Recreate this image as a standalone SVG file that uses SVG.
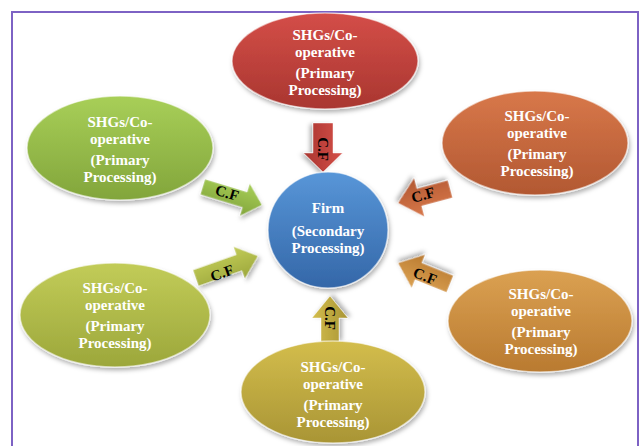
<svg xmlns="http://www.w3.org/2000/svg" width="642" height="446" viewBox="0 0 642 446">
<defs>
<filter id="sh" x="-20%" y="-20%" width="140%" height="150%"><feDropShadow dx="1.5" dy="3" stdDeviation="2" flood-color="#000" flood-opacity="0.3"/></filter>
<linearGradient id="gRed" x1="0" y1="0" x2="0" y2="1"><stop offset="0" stop-color="#d44e48"/><stop offset="1" stop-color="#a93630"/></linearGradient>
<linearGradient id="gGreen" x1="0" y1="0" x2="0" y2="1"><stop offset="0" stop-color="#a8cf58"/><stop offset="1" stop-color="#82a53b"/></linearGradient>
<linearGradient id="gOrange" x1="0" y1="0" x2="0" y2="1"><stop offset="0" stop-color="#d8784a"/><stop offset="1" stop-color="#b25832"/></linearGradient>
<linearGradient id="gLOrange" x1="0" y1="0" x2="0" y2="1"><stop offset="0" stop-color="#dba152"/><stop offset="1" stop-color="#b97a30"/></linearGradient>
<linearGradient id="gYGreen" x1="0" y1="0" x2="0" y2="1"><stop offset="0" stop-color="#c2cc58"/><stop offset="1" stop-color="#9ca73b"/></linearGradient>
<linearGradient id="gGold" x1="0" y1="0" x2="0" y2="1"><stop offset="0" stop-color="#d3bd4c"/><stop offset="1" stop-color="#a99535"/></linearGradient>
<linearGradient id="gBlue" x1="0" y1="0" x2="0" y2="1"><stop offset="0" stop-color="#5896d8"/><stop offset="1" stop-color="#3467a8"/></linearGradient>
</defs>
<style>
.node{stroke:#ffffff;stroke-opacity:0.55;stroke-width:1.5;filter:url(#sh)}
.lbl{font-family:"Liberation Serif","Times New Roman",serif;font-weight:bold;font-size:15px;fill:#ffffff;text-anchor:middle}
.arr{stroke:#ffffff;stroke-opacity:0.45;stroke-width:1;filter:url(#sh)}
.cf{font-family:"Liberation Serif","Times New Roman",serif;font-weight:bold;font-size:15px;fill:#000000;text-anchor:middle;dominant-baseline:central}
</style>
<rect x="12" y="12" width="626" height="460" fill="#ffffff" stroke="#7d62c4" stroke-width="2"/>

<g id="connectors">
<g transform="translate(323,172) rotate(90)"><polygon class="arr" fill="url(#gRed)" points="0,0 -19,19.5 -19,10 -49,10 -49,-10 -19,-10 -19,-19.5"/></g>
<text class="cf" transform="translate(323,149) rotate(90)">C.F</text>

<g transform="translate(330,296) rotate(-90)"><polygon class="arr" fill="url(#gGold)" points="0,0 -22,18 -22,9 -46,9 -46,-9 -22,-9 -22,-18"/></g>
<text class="cf" transform="translate(330,318) rotate(90)">C.F</text>

<g transform="translate(262,205) rotate(17)"><polygon class="arr" fill="url(#gGreen)" points="0,0 -18,17 -18,8 -62,8 -62,-8 -18,-8 -18,-17"/></g>
<text class="cf" transform="translate(227,193) rotate(17)">C.F</text>

<g transform="translate(258,256) rotate(-19.5)"><polygon class="arr" fill="url(#gYGreen)" points="0,0 -20,17 -20,8.5 -66,8.5 -66,-8.5 -20,-8.5 -20,-17"/></g>
<text class="cf" transform="translate(222,273) rotate(-19.5)">C.F</text>

<g transform="translate(398,203) rotate(165)"><polygon class="arr" fill="url(#gOrange)" points="0,0 -22,20 -22,9 -54,9 -54,-9 -22,-9 -22,-20"/></g>
<text class="cf" transform="translate(423,195) rotate(-16)">C.F</text>

<g transform="translate(398,263) rotate(202)"><polygon class="arr" fill="url(#gLOrange)" points="0,0 -22,18 -22,9 -56,9 -56,-9 -22,-9 -22,-18"/></g>
<text class="cf" transform="translate(425,276) rotate(22)">C.F</text>
</g>

<g id="firm">
<ellipse class="node" cx="328" cy="230" rx="60" ry="58" fill="url(#gBlue)"/>
<text class="lbl" x="328" y="213">Firm</text>
<text class="lbl" x="328" y="236">(Secondary</text>
<text class="lbl" x="328" y="253">Processing)</text>
</g>

<g id="shg-top">
<ellipse class="node" cx="325" cy="61" rx="93" ry="48" fill="url(#gRed)"/>
<text class="lbl" x="325" y="40">SHGs/Co-</text>
<text class="lbl" x="325" y="56.5">operative</text>
<text class="lbl" x="325" y="78">(Primary</text>
<text class="lbl" x="325" y="94.5">Processing)</text>
</g>

<g id="shg-left-top">
<ellipse class="node" cx="120" cy="148" rx="93" ry="52" fill="url(#gGreen)"/>
<text class="lbl" x="120" y="127">SHGs/Co-</text>
<text class="lbl" x="120" y="143.5">operative</text>
<text class="lbl" x="120" y="165">(Primary</text>
<text class="lbl" x="120" y="181.5">Processing)</text>
</g>

<g id="shg-right-top">
<ellipse class="node" cx="535" cy="143" rx="93" ry="52" fill="url(#gOrange)"/>
<text class="lbl" x="537" y="121">SHGs/Co-</text>
<text class="lbl" x="537" y="137.5">operative</text>
<text class="lbl" x="537" y="159">(Primary</text>
<text class="lbl" x="537" y="175.5">Processing)</text>
</g>

<g id="shg-left-bottom">
<ellipse class="node" cx="115" cy="315" rx="95" ry="52" fill="url(#gYGreen)"/>
<text class="lbl" x="115" y="293">SHGs/Co-</text>
<text class="lbl" x="115" y="309.5">operative</text>
<text class="lbl" x="115" y="331">(Primary</text>
<text class="lbl" x="115" y="347.5">Processing)</text>
</g>

<g id="shg-right-bottom">
<ellipse class="node" cx="540" cy="321" rx="92" ry="51" fill="url(#gLOrange)"/>
<text class="lbl" x="541" y="299">SHGs/Co-</text>
<text class="lbl" x="541" y="315.5">operative</text>
<text class="lbl" x="541" y="337">(Primary</text>
<text class="lbl" x="541" y="353.5">Processing)</text>
</g>

<g id="shg-bottom">
<ellipse class="node" cx="333" cy="392" rx="92" ry="51" fill="url(#gGold)"/>
<text class="lbl" x="333" y="372">SHGs/Co-</text>
<text class="lbl" x="333" y="388.5">operative</text>
<text class="lbl" x="333" y="410">(Primary</text>
<text class="lbl" x="333" y="426.5">Processing)</text>
</g>
</svg>
